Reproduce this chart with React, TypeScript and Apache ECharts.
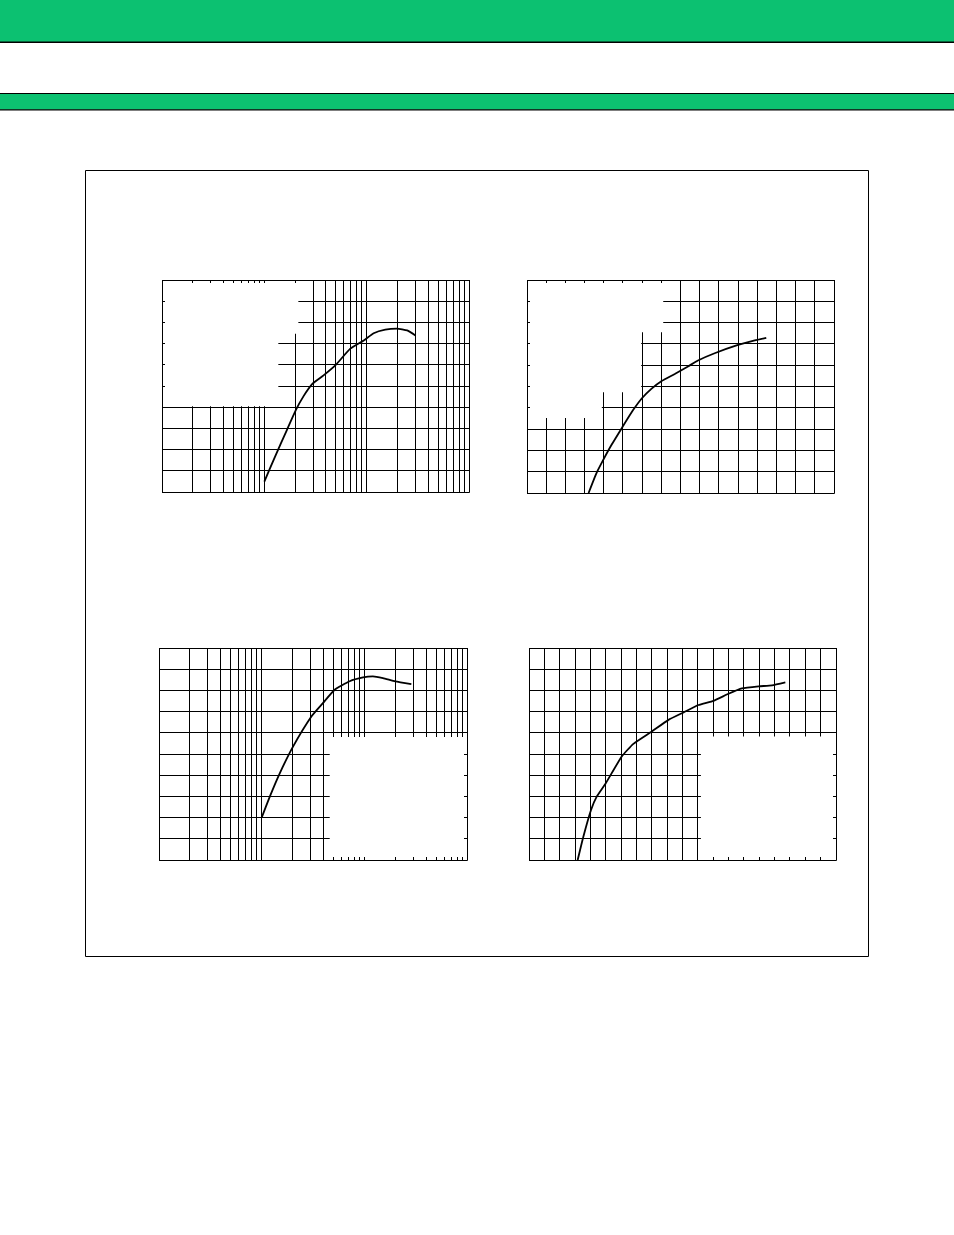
import { useEffect, useRef } from 'react';
import * as echarts from 'echarts';

// grid divisions
const logTicks = [1, 2, 3, 4, 5, 6, 7, 8, 9, 10, 20, 30, 40, 50, 60, 70, 80, 90, 100, 200, 300, 400, 500, 600, 700, 800, 900, 1000];
const linTicks16 = [0, 1, 2, 3, 4, 5, 6, 7, 8, 9, 10, 11, 12, 13, 14, 15, 16];
const linTicks20 = [0, 1, 2, 3, 4, 5, 6, 7, 8, 9, 10, 11, 12, 13, 14, 15, 16, 17, 18, 19, 20];
const yTicks = [0, 1, 2, 3, 4, 5, 6, 7, 8, 9, 10];

// curve 1 (log x)
const x1 = [10, 12.7, 16.6, 20.3, 24.1, 29.6, 37.9, 49.3, 69.2, 93.6, 117, 152, 198, 249, 300];
const y1 = [0.49, 1.66, 2.92, 3.86, 4.51, 5.11, 5.5, 5.97, 6.76, 7.15, 7.49, 7.66, 7.71, 7.62, 7.38];
// curve 2 (linear x)
const x2 = [3.21, 3.61, 3.96, 4.4, 4.97, 5.52, 5.99, 6.48, 7.0, 7.7, 8.39, 8.91, 9.78, 11.0, 11.87, 12.47];
const y2 = [0, 0.91, 1.53, 2.25, 3.09, 3.88, 4.45, 4.89, 5.25, 5.59, 5.94, 6.22, 6.56, 6.95, 7.16, 7.28];
// curve 3 (log x)
const x3 = [10, 12, 15, 20.2, 30.5, 39.5, 51.4, 72, 97, 121, 152, 200, 287];
const y3 = [2.0, 2.99, 4.09, 5.35, 6.77, 7.4, 8.03, 8.43, 8.61, 8.66, 8.58, 8.43, 8.3];
// curve 4 (linear x)
const x4 = [3.17, 3.54, 4.04, 4.41, 5.0, 6.04, 6.8, 8.0, 9.09, 10.07, 11.04, 12.02, 13.0, 13.87, 14.96, 15.83, 16.7];
const y4 = [0, 1.1, 2.36, 2.99, 3.62, 4.88, 5.48, 6.06, 6.61, 6.96, 7.31, 7.51, 7.84, 8.09, 8.19, 8.24, 8.38];

// blank (legend) areas, data units: [x0, y0, x1, y1]
const blank1 = [[1, 7.46, 21.5, 10], [1, 4.05, 13.7, 10]];
const blank2 = [[0, 7.55, 7.1, 10], [0, 4.73, 5.95, 10], [0, 3.52, 3.9, 10]];
const blank3 = [[46, 0, 1000, 5.8]];
const blank4 = [[11.2, 0, 20, 5.83]];

const GREEN = '#0cc171';
const TICK = 3;

const crisp = (v: number) => Math.round(v - 0.5) + 0.5;

const panels = [
  { grid: { left: 162, top: 280, width: 307, height: 212 }, log: true, min: 1, max: 1000, xTicks: logTicks, blanks: blank1, xs: x1, ys: y1 },
  { grid: { left: 527, top: 280, width: 307, height: 213 }, log: false, min: 0, max: 16, xTicks: linTicks16, blanks: blank2, xs: x2, ys: y2 },
  { grid: { left: 159, top: 648, width: 308, height: 212 }, log: true, min: 1, max: 1000, xTicks: logTicks, blanks: blank3, xs: x3, ys: y3 },
  { grid: { left: 529, top: 648, width: 307, height: 212 }, log: false, min: 0, max: 20, xTicks: linTicks20, blanks: blank4, xs: x4, ys: y4 },
];

const lineStyle = { stroke: '#000', lineWidth: 1 };

function buildOption() {
  const grid: any[] = [];
  const xAxis: any[] = [];
  const yAxis: any[] = [];
  const series: any[] = [];

  panels.forEach((p, i) => {
    grid.push({ ...p.grid, show: false, containLabel: false });
    xAxis.push(p.log
      ? { type: 'log', logBase: 10, min: p.min, max: p.max, gridIndex: i, show: false }
      : { type: 'value', min: p.min, max: p.max, gridIndex: i, show: false });
    yAxis.push({ type: 'value', min: 0, max: 10, gridIndex: i, show: false });

    const common = { type: 'custom', coordinateSystem: 'cartesian2d', xAxisIndex: i, yAxisIndex: i, silent: true, clip: false };

    // vertical grid lines
    series.push({
      ...common, z: 1,
      data: p.xTicks.map((v) => [v, 0]),
      renderItem: (params: any, api: any) => {
        const cs = params.coordSys;
        const x = crisp(api.coord([api.value(0), 0])[0]);
        return { type: 'line', shape: { x1: x, y1: cs.y, x2: x, y2: cs.y + cs.height }, style: lineStyle };
      },
    });
    // horizontal grid lines
    series.push({
      ...common, z: 1,
      data: yTicks.map((v) => [p.min, v]),
      renderItem: (params: any, api: any) => {
        const cs = params.coordSys;
        const y = crisp(api.coord([p.min, api.value(1)])[1]);
        return { type: 'line', shape: { x1: cs.x, y1: y, x2: cs.x + cs.width, y2: y }, style: lineStyle };
      },
    });
    // blank areas
    series.push({
      ...common, z: 2,
      data: p.blanks,
      encode: { x: [0, 2], y: [1, 3] },
      renderItem: (params: any, api: any) => {
        const cs = params.coordSys;
        const a = api.coord([api.value(0), api.value(1)]);
        const b = api.coord([api.value(2), api.value(3)]);
        const x0 = Math.max(Math.min(a[0], b[0]), cs.x);
        const x1b = Math.min(Math.max(a[0], b[0]), cs.x + cs.width);
        const y0 = Math.max(Math.min(a[1], b[1]), cs.y);
        const y1b = Math.min(Math.max(a[1], b[1]), cs.y + cs.height);
        return { type: 'rect', shape: { x: x0, y: y0, width: x1b - x0, height: y1b - y0 }, style: { fill: '#fff' } };
      },
    });
    // x ticks (top and bottom, inward)
    series.push({
      ...common, z: 3,
      data: p.xTicks.map((v) => [v, 0]),
      renderItem: (params: any, api: any) => {
        const cs = params.coordSys;
        const x = crisp(api.coord([api.value(0), 0])[0]);
        const top = cs.y;
        const bot = cs.y + cs.height;
        return {
          type: 'group',
          children: [
            { type: 'line', shape: { x1: x, y1: top, x2: x, y2: top + TICK }, style: lineStyle },
            { type: 'line', shape: { x1: x, y1: bot - TICK, x2: x, y2: bot }, style: lineStyle },
          ],
        };
      },
    });
    // y ticks (left and right, inward)
    series.push({
      ...common, z: 3,
      data: yTicks.map((v) => [p.min, v]),
      renderItem: (params: any, api: any) => {
        const cs = params.coordSys;
        const y = crisp(api.coord([p.min, api.value(1)])[1]);
        const l = cs.x;
        const r = cs.x + cs.width;
        return {
          type: 'group',
          children: [
            { type: 'line', shape: { x1: l, y1: y, x2: l + TICK, y2: y }, style: lineStyle },
            { type: 'line', shape: { x1: r - TICK, y1: y, x2: r, y2: y }, style: lineStyle },
          ],
        };
      },
    });
    // frame
    series.push({
      ...common, z: 3,
      data: [[p.min, 0]],
      renderItem: (params: any) => {
        const cs = params.coordSys;
        return {
          type: 'rect',
          shape: { x: crisp(cs.x), y: crisp(cs.y), width: Math.round(cs.width), height: Math.round(cs.height) },
          style: { fill: 'none', stroke: '#000', lineWidth: 1 },
        };
      },
    });
    // curve
    series.push({
      type: 'line',
      xAxisIndex: i,
      yAxisIndex: i,
      z: 4,
      showSymbol: false,
      smooth: 0.15,
      silent: true,
      data: p.xs.map((x, k) => [x, p.ys[k]]),
      lineStyle: { color: '#000', width: 1.8 },
    });
  });

  const graphic = [
    { type: 'rect', shape: { x: 0, y: 0, width: 954, height: 42 }, style: { fill: GREEN } },
    { type: 'line', shape: { x1: 0, y1: 42.2, x2: 954, y2: 42.2 }, style: { stroke: '#000', lineWidth: 1.4 } },
    { type: 'rect', shape: { x: 0, y: 93.5, width: 954, height: 16.3 }, style: { fill: GREEN } },
    { type: 'line', shape: { x1: 0, y1: 93.5, x2: 954, y2: 93.5 }, style: { stroke: '#000', lineWidth: 1.2 } },
    { type: 'line', shape: { x1: 0, y1: 109.8, x2: 954, y2: 109.8 }, style: { stroke: '#000', lineWidth: 1.2 } },
    { type: 'rect', shape: { x: 85.5, y: 170.5, width: 783, height: 786 }, style: { fill: 'none', stroke: '#000', lineWidth: 1 } },
  ];

  return { animation: false, backgroundColor: '#fff', grid, xAxis, yAxis, series, graphic };
}

export default function App() {
  const ref = useRef<HTMLDivElement>(null);

  useEffect(() => {
    if (!ref.current) return;
    const chart = echarts.init(ref.current, null, { renderer: 'svg' });
    chart.setOption(buildOption() as any);
    return () => {
      chart.dispose();
    };
  }, []);

  return <div ref={ref} style={{ position: 'absolute', left: 0, top: 0, width: 954, height: 1235 }} />;
}
